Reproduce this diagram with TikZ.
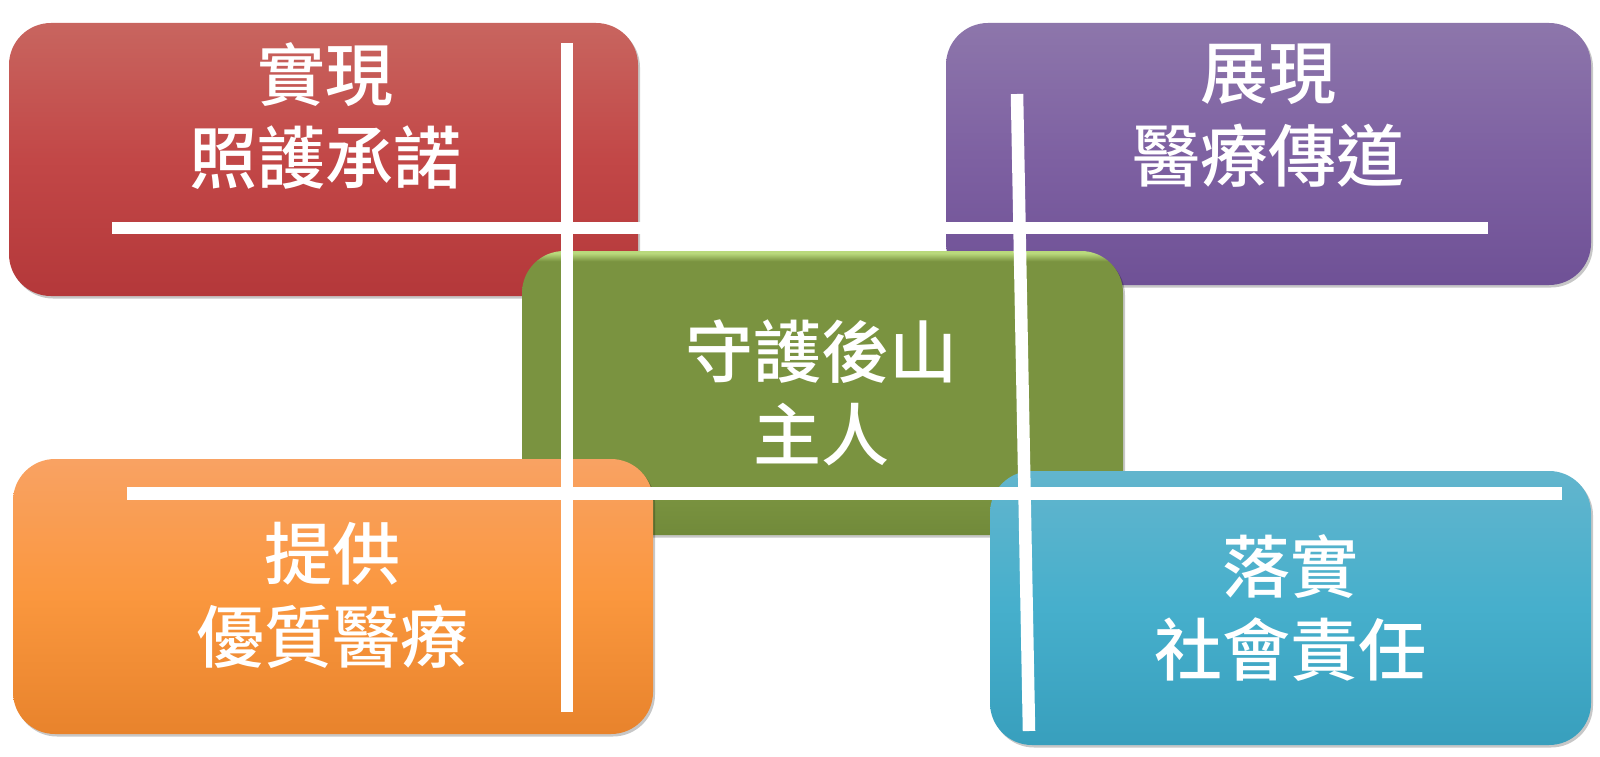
\documentclass[tikz,border=0pt]{standalone}
\usepackage{fontspec}
\setmainfont{Noto Sans CJK TC Medium}
\usetikzlibrary{shadows}
\definecolor{redT}{HTML}{C8655F}
\definecolor{redM}{HTML}{C24747}
\definecolor{redB}{HTML}{B4383A}
\definecolor{purT}{HTML}{8D76AB}
\definecolor{purM}{HTML}{7E61A2}
\definecolor{purB}{HTML}{6F5196}
\definecolor{grn}{HTML}{7A9340}
\definecolor{grnL}{HTML}{B9D97C}
\definecolor{grnD}{HTML}{718A3A}
\definecolor{orT}{HTML}{F9A263}
\definecolor{orM}{HTML}{FA973E}
\definecolor{orB}{HTML}{E8832C}
\definecolor{blT}{HTML}{62B5CD}
\definecolor{blM}{HTML}{46AFCC}
\definecolor{blB}{HTML}{389FBD}
\pgfdeclareverticalshading{greenbevel}{100bp}{color(0bp)=(grnD); color(25bp)=(grnD); color(32bp)=(grn); color(73.2bp)=(grn); color(74.6bp)=(grnL); color(75bp)=(grnL); color(100bp)=(grnL)}
\begin{document}
\begin{tikzpicture}[x=1pt,y=-1pt,
  card/.style={rounded corners=42pt, inner sep=0pt, outer sep=0pt, draw=none,
    drop shadow={shadow xshift=2pt, shadow yshift=-2.5pt, opacity=0.22, fill=black}},
  label/.style={text=white, align=center, inner sep=0pt,
    font=\fontsize{68}{83}\selectfont},
  bar/.style={draw=white, line width=12.5pt}]
\useasboundingbox[fill=white] (0,0) rectangle (1600,757);
% cards
\node[card, minimum width=629pt, minimum height=273pt,
  top color=redT, bottom color=redB, middle color=redM] (red) at (323.5,159.5) {};
\node[card, minimum width=645pt, minimum height=262pt,
  top color=purT, bottom color=purB, middle color=purM] (pur) at (1268.5,154) {};
\node[card, minimum width=601pt, minimum height=284pt,
  shading=greenbevel] (grn) at (822.5,393) {};
\node[card, minimum width=640pt, minimum height=275pt,
  top color=orT, bottom color=orB, middle color=orM] (ora) at (333,596.5) {};
\node[card, minimum width=601pt, minimum height=274pt,
  top color=blT, bottom color=blB, middle color=blM] (blu) at (1290.5,608) {};
% labels
\node[label] (tred) at (325,116.5) {實現\\照護承諾};
\node[label] (tpur) at (1268,116) {展現\\醫療傳道};
\node[label] (tgrn) at (821,392.5) {守護後山\\主人};
\node[label] (tora) at (332,595.5) {提供\\優質醫療};
\node[label] (tblu) at (1290,608) {落實\\社會責任};
% bars
\coordinate (h1a) at (112,228);
\coordinate (h1b) at (1488,228);
\coordinate (h2a) at (127,493.5);
\coordinate (h2b) at (1562,493.5);
\coordinate (v1a) at (567,43);
\coordinate (v1b) at (567,712);
\coordinate (v2a) at (1017,94);
\coordinate (v2b) at (1029,731);
\draw[bar] (h1a) -- (h1b);
\draw[bar] (h2a) -- (h2b);
\draw[bar] (v1a) -- (v1b);
\draw[bar] (v2a) -- (v2b);
\end{tikzpicture}
\end{document}
